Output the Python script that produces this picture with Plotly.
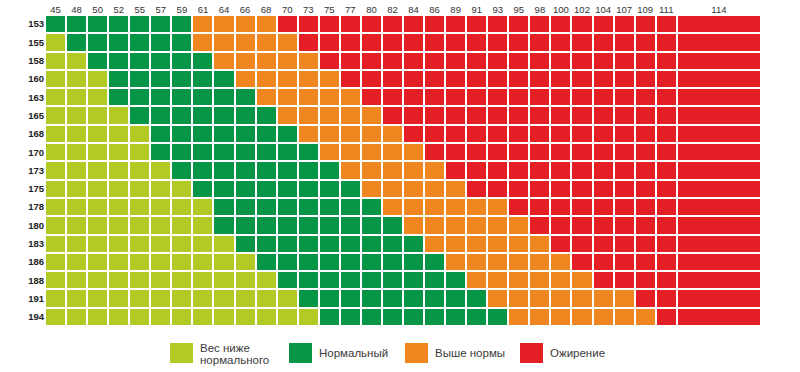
import plotly.graph_objects as go

# ---- data ----
heights = ["153", "155", "158", "160", "163", "165", "168", "170", "173",
           "175", "178", "180", "183", "186", "188", "191", "194"]
weights = ["45", "48", "50", "52", "55", "57", "59", "61", "64", "66", "68",
           "70", "73", "75", "77", "80", "82", "84", "86", "89", "91", "93",
           "95", "98", "100", "102", "104", "107", "109", "111", "114"]
# index of the first weight column in each category, per height row
normal_start = [0, 1, 2, 3, 3, 4, 5, 5, 6, 7, 8, 8, 9, 10, 11, 12, 13]
over_start = [7, 7, 8, 9, 10, 11, 12, 13, 14, 15, 16, 17, 18, 19, 20, 21, 22]
obese_start = [11, 12, 13, 14, 15, 16, 17, 18, 19, 20, 22, 23, 24, 25, 26, 28, 29]
# relative width of each weight column (last one is wide)
col_widths = [1] * 30 + [4]

categories = [["Вес ниже", "нормального"], ["Нормальный"], ["Выше нормы"], ["Ожирение"]]
colors = ["#b3c925", "#079547", "#f0861f", "#e31e25"]

# ---- build matrix ----
z = []
for n, o, b in zip(normal_start, over_start, obese_start):
    row = []
    for j in range(len(weights)):
        if j < n:
            row.append(0)
        elif j < o:
            row.append(1)
        elif j < b:
            row.append(2)
        else:
            row.append(3)
    z.append(row)

edges = [0]
for w in col_widths:
    edges.append(edges[-1] + w)
centers = [(edges[i] + edges[i + 1]) / 2 for i in range(len(col_widths))]

cs = [[0, colors[0]], [0.25, colors[0]], [0.25, colors[1]], [0.5, colors[1]],
      [0.5, colors[2]], [0.75, colors[2]], [0.75, colors[3]], [1, colors[3]]]

W, H = 800, 372
L, R, T, B = 45, 39, 15, 46
FONT = "Liberation Sans, Arial, sans-serif"

fig = go.Figure(go.Heatmap(
    z=z, x=edges, y=heights,
    colorscale=cs, zmin=-0.5, zmax=3.5, showscale=False,
    xgap=2, ygap=2, hoverinfo="skip",
))

# legend drawn as shapes + text (positions in page pixels)
pw, ph = W - L - R, H - T - B
def px(x):
    return (x - L) / pw
def py(y):
    return (H - B - y) / ph

leg_x = [170, 289, 405, 520]
shapes = []
annots = []
for lx, c, lines in zip(leg_x, colors, categories):
    shapes.append(dict(type="rect", xref="paper", yref="paper",
                       x0=px(lx), x1=px(lx + 23), y0=py(363), y1=py(343),
                       fillcolor=c, line=dict(width=0)))
    if len(lines) == 1:
        ys = [353]
    else:
        ys = [347.5, 360]
    for yy, txt in zip(ys, lines):
        annots.append(dict(xref="paper", yref="paper", x=px(lx + 29), y=py(yy),
                           text=txt, showarrow=False, xanchor="left", yanchor="middle",
                           align="left", borderpad=0,
                           font=dict(family=FONT, size=11.5, color="#3a3a3a")))

fig.update_layout(
    width=W, height=H,
    margin=dict(l=L, r=R, t=T, b=B),
    paper_bgcolor="white", plot_bgcolor="white",
    shapes=shapes, annotations=annots,
    xaxis=dict(side="top", range=[0, edges[-1]], tickvals=centers, ticktext=weights,
               showgrid=False, zeroline=False, ticks="", showline=False,
               automargin=False, ticklabelstandoff=-1,
               tickfont=dict(family=FONT, size=9.5, color="#333"),
               fixedrange=True),
    yaxis=dict(type="category", autorange="reversed", showgrid=False, zeroline=False,
               ticks="", showline=False, automargin=False,
               tickfont=dict(family=FONT, size=9.5, color="#222", weight="bold"),
               fixedrange=True),
)

fig.write_html("out.html", config={"displayModeBar": False},
               post_script="document.body.style.margin='0';document.body.style.overflow='hidden';")
